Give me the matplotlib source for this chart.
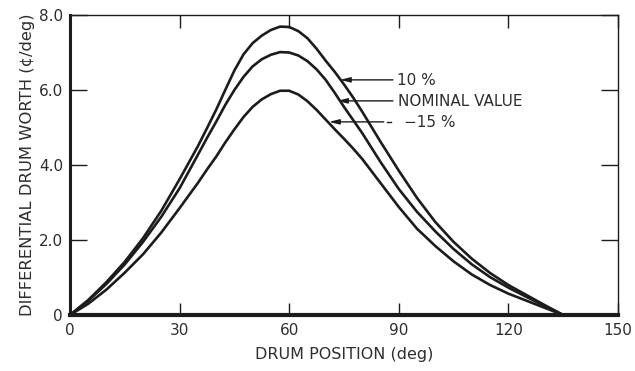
import matplotlib
matplotlib.use("Agg")
import matplotlib.pyplot as plt

# drum position (deg)
deg = [0, 5, 10, 15, 20, 25, 30, 35,
       37.5, 40, 42.5, 45, 47.5, 50, 52.5, 55, 57.5, 60, 62.5, 65, 67.5, 70,
       72.5, 75, 77.5, 80,
       85, 90, 95, 100, 105, 110, 115, 120, 125, 130, 135]

# differential drum worth
plus10 = [0, 0.40, 0.88, 1.42, 2.05, 2.78, 3.62, 4.50,
          4.98, 5.47, 6.00, 6.52, 6.95, 7.25, 7.45, 7.60, 7.69, 7.68, 7.57,
          7.38, 7.10, 6.78, 6.48, 6.15, 5.80, 5.42,
          4.62, 3.85, 3.12, 2.48, 1.95, 1.50, 1.12, 0.80, 0.53, 0.26, 0]
nominal = [0, 0.38, 0.83, 1.35, 1.95, 2.62, 3.38, 4.27,
           4.72, 5.15, 5.60, 6.00, 6.35, 6.63, 6.82, 6.94, 7.01, 7.00, 6.92,
           6.77, 6.55, 6.27, 5.92, 5.55, 5.20, 4.85,
           4.08, 3.36, 2.75, 2.23, 1.76, 1.35, 1.01, 0.73, 0.48, 0.24, 0]
minus15 = [0, 0.30, 0.68, 1.13, 1.62, 2.20, 2.85, 3.52,
           3.88, 4.22, 4.60, 4.95, 5.28, 5.55, 5.75, 5.89, 5.98, 5.98, 5.88,
           5.70, 5.47, 5.21, 4.95, 4.70, 4.44, 4.16,
           3.52, 2.88, 2.30, 1.84, 1.43, 1.08, 0.80, 0.57, 0.38, 0.19, 0]

xticks = [0, 30, 60, 90, 120, 150]
yticks = [0, 2, 4, 6, 8]
ylabels = ["0", "2.0", "4.0", "6.0", "8.0"]

ink = "#1c1c1c"
txt = "#2e2e2e"

fig = plt.figure(figsize=(6.35, 3.71), dpi=100)
ax = fig.add_axes([0.1102, 0.1509, 0.8630, 0.8087])

for ys in (plus10, nominal, minus15):
    ax.plot(deg, ys, color=ink, lw=1.9, solid_capstyle="round",
            solid_joinstyle="round")

ax.set_xlim(0, 150)
ax.set_ylim(0, 8)
ax.set_xticks(xticks)
ax.set_yticks(yticks)
ax.set_yticklabels(ylabels)

for s in ("top", "right"):
    ax.spines[s].set_linewidth(1.0)
ax.spines["left"].set_linewidth(2.2)
ax.spines["bottom"].set_linewidth(3.0)
for s in ax.spines.values():
    s.set_color(ink)

ax.tick_params(axis="x", direction="in", length=9, width=1.0, top=True,
               labelsize=11, labelcolor=txt, color=ink, pad=6)
ax.tick_params(axis="y", direction="in", length=12, width=1.0, right=True,
               labelsize=11, labelcolor=txt, color=ink, pad=5)

ax.set_xlabel("DRUM POSITION (deg)", fontsize=11.5, color=txt, labelpad=6)
ax.set_ylabel("DIFFERENTIAL DRUM WORTH (\u00a2/deg)", fontsize=11.8, color=txt,
              labelpad=3)

arrow = dict(arrowstyle="-|>,head_length=0.6,head_width=0.15", color=ink,
             lw=1.0, shrinkA=0, shrinkB=0)
ax.annotate("", xy=(73.9, 6.27), xytext=(88.4, 6.27), arrowprops=arrow)
ax.text(89.6, 6.24, "10 %", fontsize=11, color=txt, va="center", ha="left")
ax.annotate("", xy=(73.1, 5.71), xytext=(88.4, 5.71), arrowprops=arrow)
ax.text(89.8, 5.68, "NOMINAL VALUE", fontsize=11, color=txt, va="center",
        ha="left")
ax.annotate("", xy=(70.9, 5.15), xytext=(85.9, 5.15), arrowprops=arrow)
ax.plot([86.8, 87.9], [5.15, 5.15], color=ink, lw=1.0)
ax.text(91.5, 5.12, "\u221215 %", fontsize=11, color=txt, va="center",
        ha="left")

fig.savefig("out.png", dpi=100)
